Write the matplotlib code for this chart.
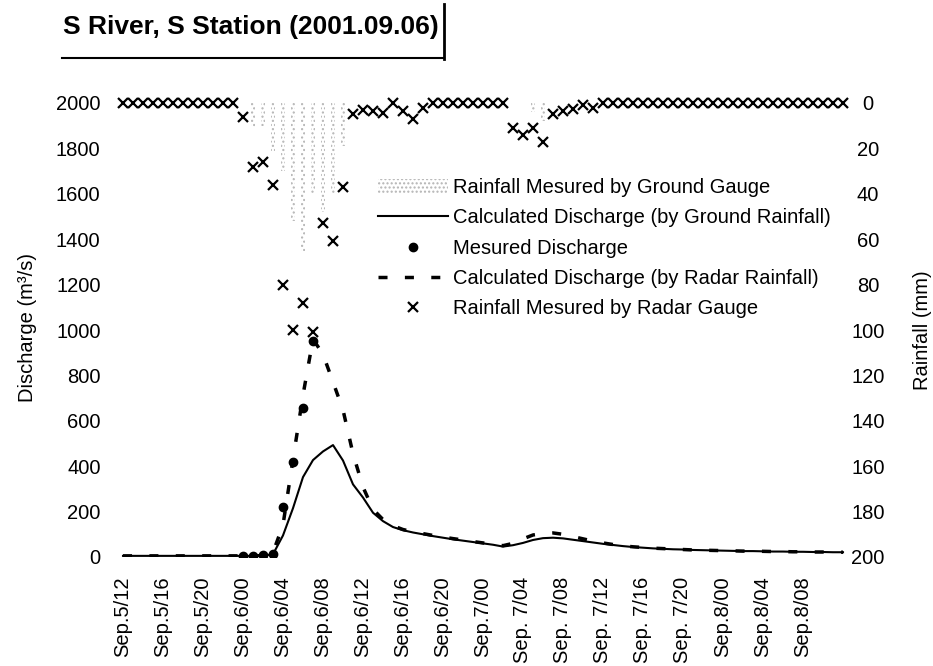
import numpy as np
import matplotlib
matplotlib.use('Agg')
import matplotlib.pyplot as plt
from matplotlib.lines import Line2D
from matplotlib.patches import Patch

plt.rcParams['font.family'] = 'Liberation Sans'
plt.rcParams['hatch.linewidth'] = 1.0

# hourly series from Sep.5 12:00 to Sep.8 12:00
tick_labels = ['Sep.5/12', 'Sep.5/16', 'Sep.5/20', 'Sep.6/00', 'Sep.6/04', 'Sep.6/08',
               'Sep.6/12', 'Sep.6/16', 'Sep.6/20', 'Sep.7/00', 'Sep. 7/04', 'Sep. 7/08',
               'Sep. 7/12', 'Sep. 7/16', 'Sep. 7/20', 'Sep.8/00', 'Sep.8/04', 'Sep.8/08']

# calculated discharge (by ground rainfall), m3/s
q_ground = [5, 5, 5, 5, 5, 5, 5, 5, 5, 5, 5, 5,
            5, 5, 6, 12, 95, 215, 352, 427, 465, 493, 425, 320, 262, 195, 158, 132,
            118, 108, 100, 92, 85, 78, 72, 66, 60, 54, 46, 52, 62, 75, 83, 85,
            82, 76, 70, 64, 58, 53, 48, 44, 41, 38, 36, 34, 33, 31, 30, 29,
            28, 27, 26, 26, 25, 24, 24, 23, 23, 22, 22, 21, 21]

# calculated discharge (by radar rainfall), m3/s
q_radar = [5, 5, 5, 5, 5, 5, 5, 5, 5, 5, 5, 5, 5, 5,
           6, 20, 141, 430, 713, 960, 893, 771, 648, 455, 308, 210, 165, 138,
           121, 111, 103, 95, 88, 81, 75, 68, 62, 56, 50, 60, 80, 97, 104, 106,
           100, 90, 80, 70, 62, 55, 49, 45, 42, 39, 37, 35, 33, 31, 30, 29,
           28, 27, 26, 26, 25, 24, 24, 23, 23, 22, 22, 21, 21]

# measured discharge
measured_idx = [12, 13, 14, 15, 16, 17, 18, 19]
measured_q = [5, 5, 10, 15, 220, 418, 656, 950]

# rainfall, mm
rain_ground = [0] * 13 + [11, 10, 21, 30, 52, 65, 40, 48, 40, 19] + [0] * 18 + [4, 8] + [0] * 30
rain_radar = [0] * 12 + [6, 28, 26, 36, 80, 100, 88, 101, 53, 61, 37, 5,
                         3, 3.5, 4.5, 0, 3.5, 7, 2] + [0] * 8 + \
             [11, 14, 11, 17, 5, 3.5, 2.7, 1, 2] + [0] * 25

hours = np.arange(len(q_ground))

fig = plt.figure(figsize=(9.33, 6.66), dpi=100)
ax = fig.add_axes([113 / 933, 1 - 557 / 666, 735 / 933, 454 / 666])
ax2 = ax.twinx()

gray = '#b4b4b4'
ax2.bar(hours, rain_ground, width=0.4, facecolor='none', edgecolor=gray,
        hatch='....', linewidth=0)
ax2.plot(hours, rain_radar, 'x', color='black', ms=7, mew=1.6, clip_on=False)
ax2.set_ylim(200, 0)

ax.plot(hours, q_ground, '-', color='black', lw=1.5)
ax.plot(measured_idx, measured_q, 'o', color='black', ms=6)
ax.plot(hours, q_radar, color='black', lw=2.5, dashes=(2.6, 5))
ax.set_ylim(0, 2000)
ax.set_xlim(-1, 72.5)

ax.set_xticks(hours[:len(tick_labels) * 4:4])
ax.set_xticklabels(tick_labels)
ax.set_yticks(range(0, 2001, 200))
ax2.set_yticks(range(0, 201, 20))

fs = 14.5
ax.tick_params(axis='x', length=0, pad=14, labelsize=fs, labelrotation=90)
ax.tick_params(axis='y', length=0, pad=9, labelsize=fs)
ax2.tick_params(axis='y', length=0, pad=14.3, labelsize=fs)
for lbl in ax2.get_yticklabels():
    lbl.set_ha('center')

for a in (ax, ax2):
    for s in a.spines.values():
        s.set_visible(False)

fig.text(28 / 933, 1 - 328 / 666, 'Discharge (m³/s)', rotation=90,
         ha='center', va='center', fontsize=fs)
fig.text(922 / 933, 1 - 330 / 666, 'Rainfall (mm)', rotation=90,
         ha='center', va='center', fontsize=fs)

# title with underline box edge
fig.text(63 / 933, 1 - 27 / 666, 'S River, S Station (2001.09.06)', fontsize=19,
         fontweight='bold', ha='left', va='center')
fig.add_artist(Line2D([62 / 933, 444 / 933], [1 - 58 / 666, 1 - 58 / 666],
                      color='black', lw=1.5))
fig.add_artist(Line2D([444 / 933, 444 / 933], [1 - 4 / 666, 1 - 59 / 666],
                      color='black', lw=2))

handles = [Patch(facecolor='none', edgecolor=gray, hatch='....', lw=0),
           Line2D([], [], color='black', lw=1.5),
           Line2D([], [], ls='none', marker='o', color='black', ms=6),
           Line2D([], [], color='black', lw=2.5, dashes=(2.6, 5)),
           Line2D([], [], ls='none', marker='x', color='black', ms=7, mew=1.6)]
labels = ['Rainfall Mesured by Ground Gauge',
          'Calculated Discharge (by Ground Rainfall)',
          'Mesured Discharge',
          'Calculated Discharge (by Radar Rainfall)',
          'Rainfall Mesured by Radar Gauge']
fig.legend(handles, labels, loc='upper left', bbox_to_anchor=(378 / 933, 1 - 178 / 666),
           frameon=False, fontsize=fs, handlelength=3.5, handletextpad=0.2,
           labelspacing=0.56, borderpad=0, borderaxespad=0)

fig.savefig('out.png', dpi=100)
